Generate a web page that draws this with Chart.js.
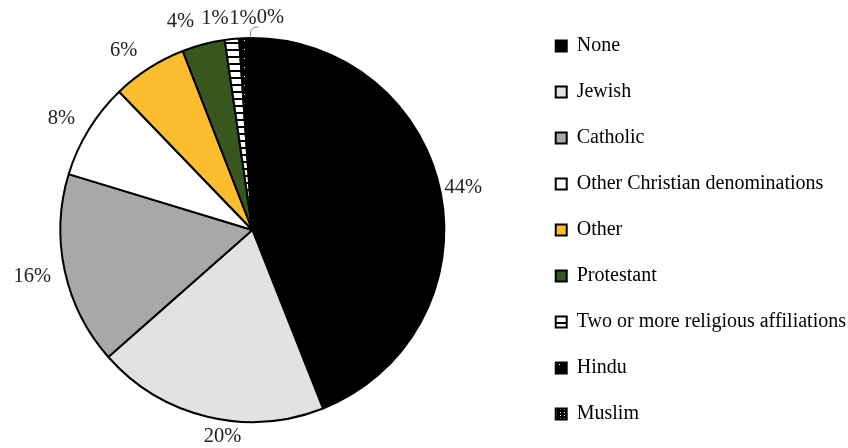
<!DOCTYPE html>
<html>
<head>
<meta charset="utf-8">
<script src="https://cdn.jsdelivr.net/npm/chart.js@4.4.1/dist/chart.umd.min.js"></script>
<style>
  html, body { margin: 0; padding: 0; background: #fff; overflow: hidden; }
  #wrap { width: 848px; height: 448px; overflow: hidden; }
  /* canvas is a bit larger than the page and pulled left, so pie and legend land where they are in the original */
  #chart { margin-left: -25px; display: block; }
</style>
</head>
<body>
<div id="wrap"><canvas id="chart" width="881" height="460"></canvas></div>
<script>
// religion shares, clockwise from 12 o'clock
const categories = ['None', 'Jewish', 'Catholic', 'Other Christian denominations', 'Other',
    'Protestant', 'Two or more religious affiliations', 'Hindu', 'Muslim'];
const shares = [44.0, 19.5, 16.2, 8.1, 6.3, 3.6, 1.2, 0.8, 0.3];
const shareLabels = ['44%', '20%', '16%', '8%', '6%', '4%', '1%', '1%', '0%'];

const serif = '"Liberation Serif", "Times New Roman", serif';

function makePattern(kind) {
    const c = document.createElement('canvas');
    const g = c.getContext('2d');
    if (kind === 'stripes') {
        c.width = 7; c.height = 7;
        g.fillStyle = '#fff'; g.fillRect(0, 0, 7, 7);
        g.fillStyle = '#000'; g.fillRect(0, 0, 7, 2);
    } else if (kind === 'sparse') {
        c.width = 7; c.height = 9;
        g.fillStyle = '#000'; g.fillRect(0, 0, 7, 9);
        g.fillStyle = '#fff'; g.fillRect(3, 4, 1, 1);
    } else {
        c.width = 4; c.height = 3;
        g.fillStyle = '#000'; g.fillRect(0, 0, 4, 3);
        g.fillStyle = '#fff'; g.fillRect(1, 1, 1, 1);
    }
    return g.createPattern(c, 'repeat');
}

const fills = ['#000000', '#e2e2e2', '#a8a8a8', '#ffffff', '#fbbd2e', '#38571f',
    makePattern('stripes'), makePattern('sparse'), makePattern('dense')];

// label placement tweaks: [angle nudge in degrees, gap beyond the rim]
const labelNudge = [[-0.5, 23], [-5.3, 17], [0.2, 33], [-1.3, 29], [-3, 29],
    [-4.3, 28], [-3.9, 23], [0, 20], [5.4, 21]];

const sliceLabels = {
    id: 'sliceLabels',
    afterDatasetsDraw(chart) {
        const ctx = chart.ctx;
        const meta = chart.getDatasetMeta(0);
        ctx.save();
        ctx.font = '20.5px ' + serif;
        ctx.fillStyle = '#222';
        ctx.textAlign = 'center';
        ctx.textBaseline = 'middle';
        meta.data.forEach((arc, i) => {
            const p = arc.getProps(['x', 'y', 'startAngle', 'endAngle', 'outerRadius'], true);
            const mid = (p.startAngle + p.endAngle) / 2 + labelNudge[i][0] * Math.PI / 180;
            const rr = p.outerRadius + labelNudge[i][1];
            const lx = p.x + Math.cos(mid) * rr;
            const ly = p.y + Math.sin(mid) * rr;
            ctx.fillText(shareLabels[i], lx, ly);
            if (i === shares.length - 1) {
                // leader line for the tiny slice
                const a = (p.startAngle + p.endAngle) / 2;
                const ax = p.x + Math.cos(a) * p.outerRadius;
                const ay = p.y + Math.sin(a) * p.outerRadius;
                ctx.strokeStyle = '#8c8c8c';
                ctx.lineWidth = 1;
                ctx.beginPath();
                ctx.moveTo(ax, ay);
                ctx.lineTo(ax, ly + 14);
                ctx.quadraticCurveTo(ax, ly + 10, lx - 12, ly + 9);
                ctx.stroke();
            }
        });
        ctx.restore();
    }
};

new Chart(document.getElementById('chart'), {
    type: 'pie',
    data: {
        labels: categories,
        datasets: [{
            data: shares,
            backgroundColor: fills,
            borderColor: '#000',
            borderWidth: 2,
            radius: 192
        }]
    },
    options: {
        responsive: false,
        animation: false,
        layout: { padding: 0 },
        plugins: {
            tooltip: { enabled: false },
            legend: {
                position: 'right',
                labels: {
                    color: '#000',
                    boxWidth: 11,
                    boxHeight: 11,
                    padding: 26,
                    font: { family: serif, size: 20 }
                }
            }
        }
    },
    plugins: [sliceLabels]
});
</script>
</body>
</html>
